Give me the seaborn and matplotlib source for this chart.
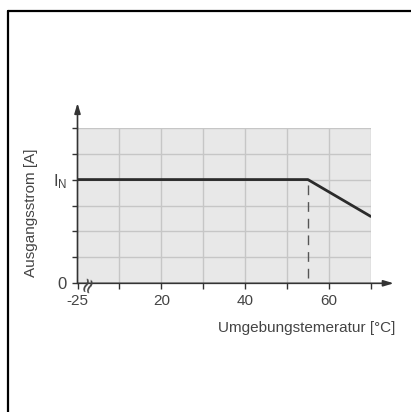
import matplotlib
matplotlib.use("Agg")
import matplotlib.pyplot as plt
import seaborn as sns
import pandas as pd
from matplotlib.lines import Line2D

# Data (x positions on broken axis: 0 represents -25 °C)
x_pos = [0, 55, 70]
current = [4.0, 4.0, 2.58]
x_ticks = [0, 10, 20, 30, 40, 50, 60, 70]
x_labels = ["-25", "", "20", "", "40", "", "60", ""]
y_ticks = [0, 1, 2, 3, 4, 5, 6]
y_labels = ["0", "", "", "", "$\\mathregular{I_N}$", "", ""]
derate_x = 55

sns.set_theme(style="white")
plt.rcParams["font.family"] = ["Liberation Sans", "DejaVu Sans"]

W, H = 411, 412
fig = plt.figure(figsize=(W / 100, H / 100), dpi=100)
ax = fig.add_axes([77.5 / W, 1 - 283.3 / H, (370.7 - 77.5) / W, (283.3 - 127.7) / H])
ax.set_facecolor("#e8e8e8")
ax.set_xlim(0, 70)
ax.set_ylim(0, 6)

df = pd.DataFrame({"x": x_pos, "y": current})
sns.lineplot(data=df, x="x", y="y", ax=ax, color="#2b2b2b", lw=2.0, zorder=4)
ax.plot([derate_x, derate_x], [0.2, current[1]], color="#555555", lw=1.0,
        dashes=(7, 5), zorder=3)

for gx in x_ticks[1:]:
    ax.axvline(gx, color="#c6c6c6", lw=1.0, zorder=1)
for gy in y_ticks[1:]:
    ax.axhline(gy, color="#c6c6c6", lw=1.0, zorder=1)

for s in ax.spines.values():
    s.set_visible(False)

ax.set_xticks(x_ticks)
ax.set_xticklabels(x_labels)
ax.set_yticks(y_ticks)
ax.set_yticklabels(y_labels)
ax.tick_params(axis="both", direction="out", length=4.5, width=1.0, color="#333333",
               labelcolor="#444444", labelsize=11, pad=3, left=True, bottom=True)
ax.tick_params(axis="y", labelsize=12)
ax.set_xlabel("")
ax.set_ylabel("")

# Axis arrows
ax.annotate("", xy=(0, 6.95), xytext=(0, 0), xycoords="data", annotation_clip=False,
            arrowprops=dict(arrowstyle="-|>,head_length=0.5,head_width=0.15",
                            color="#333333", lw=1.2, shrinkA=0, shrinkB=0), zorder=5)
ax.annotate("", xy=(75.5, 0), xytext=(0, 0), xycoords="data", annotation_clip=False,
            arrowprops=dict(arrowstyle="-|>,head_length=0.5,head_width=0.15",
                            color="#333333", lw=1.2, shrinkA=0, shrinkB=0), zorder=5)

# axis break symbol
ax.text(2.4, 0.0, "≈", rotation=70, ha="center", va="center", fontsize=15,
        color="#444444", clip_on=False, zorder=6, family="DejaVu Sans")

fig.text(395 / W, 1 - 328 / H, "Umgebungstemeratur [°C]", ha="right", va="center",
         fontsize=11, color="#444444")
fig.text(31 / W, 1 - 213 / H, "Ausgangsstrom [A]", ha="center", va="center",
         rotation=90, fontsize=11, color="#444444")

# frame (top and left)
fig.add_artist(Line2D([8 / W, 8 / W], [0, 1 - 11 / H], color="black", lw=1.6,
                      transform=fig.transFigure))
fig.add_artist(Line2D([8 / W, 1], [1 - 11 / H, 1 - 11 / H], color="black", lw=1.6,
                      transform=fig.transFigure))

fig.savefig("out.png", dpi=100, facecolor="white")
